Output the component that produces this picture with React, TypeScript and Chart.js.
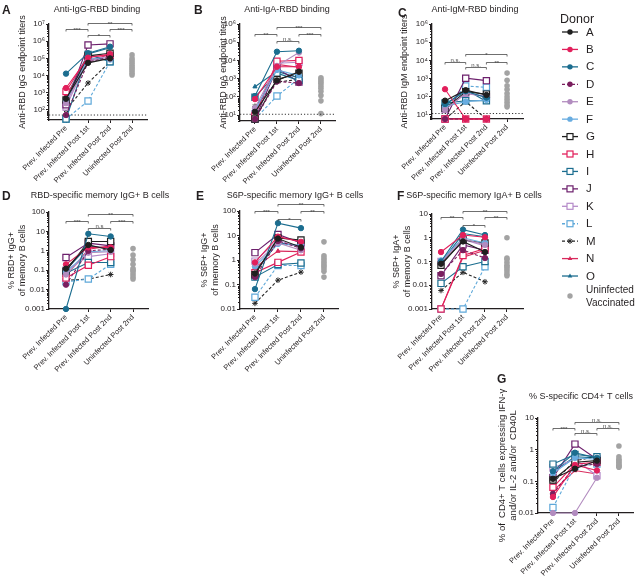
import React, { useEffect, useRef } from 'react';
import { Chart, registerables } from 'chart.js';

Chart.register(...registerables);

const FONT = '"Liberation Sans", Arial, Helvetica, sans-serif';
const INK = '#231f20';
const GRAY = '#a3a3a3';
Chart.defaults.font.family = FONT;
Chart.defaults.color = INK;

// ---------- categories / donors ----------
const TIMEPOINTS = ['Prev. Infected Pre', 'Prev. Infected Post 1st', 'Prev. Infected Post 2nd', 'Uninfected Post 2nd'];
const DONORS = ['A', 'B', 'C', 'D', 'E', 'F', 'G', 'H', 'I', 'J', 'K', 'L', 'M', 'N', 'O'];
const DONOR_COLORS = ['#1f1f1f', '#e21f5b', '#1b6d8f', '#7a1e5e', '#b28cbf', '#68ace0', '#1f1f1f', '#e21f5b', '#1b6d8f', '#6c1f6c', '#b58bc9', '#5ea8d9', '#262626', '#d92a5d', '#1b6d8f'];
const DONOR_MARKERS = ['circle', 'circle', 'circle', 'circle', 'circle', 'circle', 'rect', 'rect', 'rect', 'rect', 'rect', 'rect', 'star', 'triangle', 'triangle'];
const DONOR_DASHED = [false, false, false, true, false, false, false, false, false, false, false, true, true, false, false];

// ---------- tick values ----------
const TITER_TICKS_7 = [1e2, 1e3, 1e4, 1e5, 1e6, 1e7];
const TITER_TICKS_6 = [1e1, 1e2, 1e3, 1e4, 1e5, 1e6];
const PCT_TICKS_D = [0.001, 0.01, 0.1, 1, 10, 100];
const PCT_TICKS_E = [0.01, 0.1, 1, 10, 100];
const PCT_TICKS_F = [0.001, 0.01, 0.1, 1, 10];
const PCT_TICKS_G = [0.01, 0.1, 1, 10];

// ---------- A: Anti-IgG-RBD ----------
const antiIgG_pre = [450, 1900, 13000, 51, 250, 300, 380, 1200, 30, 200, 150, 30, 100, 700, 550];
const antiIgG_post1 = [55000, 110000, 200000, 60000, 75000, 95000, 140000, 130000, 170000, 600000, 90000, 330, 3700, 70000, 180000];
const antiIgG_post2 = [100000, 180000, 480000, 120000, 95000, 85000, 200000, 150000, 64000, 700000, 130000, 64000, 64000, 170000, 420000];
const antiIgG_uninf = [11000, 14000, 19000, 25000, 32000, 42000, 55000, 75000, 100000, 160000];
const antiIgG_lod = 51;
const antiIgG_sig = [[0, 1, 5.1e6, '***'], [1, 3, 1.15e7, '**'], [1, 2, 2.3e6, '*'], [2, 3, 5.1e6, '***']];

// ---------- B: Anti-IgA-RBD ----------
const antiIgA_pre = [15, 75, 110, 6, 24, 18, 6, 9, 95, 6, 12, 6, 30, 10, 360];
const antiIgA_post1 = [800, 4500, 30000, 700, 5000, 3000, 900, 9000, 2000, 3700, 7000, 110, 650, 6000, 2500];
const antiIgA_post2 = [2400, 4500, 34000, 570, 27000, 1500, 2000, 10000, 800, 650, 8000, 1000, 900, 4200, 1100];
const antiIgA_uninf = [12, 60, 120, 200, 300, 400, 550, 700, 900, 1100];
const antiIgA_lod = 11;
const antiIgA_sig = [[0, 1, 2.8e5, '**'], [1, 3, 6.9e5, '***'], [1, 2, 1.2e5, 'n.s.'], [2, 3, 2.8e5, '***']];

// ---------- C: Anti-IgM-RBD ----------
const antiIgM_pre = [61, 260, 40, 6, 19, 30, 23, 6, 45, 6, 20, 25, 6, 6, 35];
const antiIgM_post1 = [230, 6, 200, 6, 155, 54, 190, 6, 60, 1050, 150, 390, 54, 6, 250];
const antiIgM_post2 = [125, 6, 90, 6, 110, 67, 140, 6, 60, 770, 100, 330, 6, 6, 55];
const antiIgM_uninf = [28, 35, 50, 70, 100, 150, 250, 400, 800, 2000];
const antiIgM_lod = 12;
const antiIgM_sig = [[0, 1, 8.1e3, 'n.s.'], [1, 3, 2.2e4, '*'], [1, 2, 4.4e3, 'n.s.'], [2, 3, 8.1e3, '**']];

// ---------- D: RBD-specific memory IgG+ B cells ----------
const rbdIgG_pre = [0.12, 0.2, 0.001, 0.018, 0.06, 0.08, 0.09, 0.04, 0.07, 0.45, 0.1, 0.025, 0.03, 0.05, 0.1];
const rbdIgG_post1 = [2, 1.5, 7.5, 1, 0.8, 0.9, 3, 0.18, 0.25, 2.5, 0.5, 0.035, 0.035, 1.2, 1.8];
const rbdIgG_post2 = [1.1, 1.5, 5.5, 1.2, 0.9, 1.0, 3, 0.5, 0.25, 1.8, 0.7, 0.2, 0.06, 1.8, 1.3];
const rbdIgG_uninf = [0.035, 0.045, 0.06, 0.08, 0.1, 0.12, 0.2, 0.35, 0.6, 1.3];
const rbdIgG_sig = [[0, 1, 35, '***'], [1, 3, 76, '**'], [1, 2, 14.5, 'n.s'], [2, 3, 35, '***']];

// ---------- E: S6P-specific memory IgG+ B cells ----------
const s6pIgG_pre = [0.28, 0.8, 0.065, 0.2, 0.7, 0.55, 0.25, 0.3, 0.2, 2, 0.9, 0.03, 0.017, 0.5, 0.35];
const s6pIgG_post1 = [7.5, 9, 32, 6, 5, 4.5, 8, 0.8, 0.65, 11, 6.5, 0.6, 0.15, 2.3, 5];
const s6pIgG_post2 = [3.3, 5.5, 20, 3, 2.5, 4, 6.5, 2.1, 0.75, 5, 3, 0.6, 0.32, 2.2, 3.8];
const s6pIgG_uninf = [0.2, 0.35, 0.45, 0.55, 0.65, 0.8, 1.0, 1.2, 1.5, 5.5];
const s6pIgG_sig = [[0, 1, 100, '***'], [1, 3, 190, '**'], [1, 2, 47, '*'], [2, 3, 100, '**']];

// ---------- F: S6P-specific memory IgA+ B cells ----------
const s6pIgA_pre = [0.08, 0.25, 0.1, 0.03, 0.09, 0.11, 0.07, 0.001, 0.012, 0.025, 0.1, 0.001, 0.006, 0.001, 0.085];
const s6pIgA_post1 = [0.7, 1.3, 2.2, 0.3, 0.9, 1.0, 0.8, 0.18, 0.06, 0.5, 0.85, 0.001, 0.035, 0.15, 1.5];
const s6pIgA_post2 = [0.25, 1.05, 1.3, 0.14, 0.5, 0.6, 0.6, 0.35, 0.1, 0.3, 0.45, 0.06, 0.014, 0.3, 1.1];
const s6pIgA_uninf = [0.025, 0.03, 0.04, 0.05, 0.06, 0.07, 0.09, 0.12, 0.14, 1.0];
const s6pIgA_sig = [[0, 1, 7.3, '**'], [1, 3, 13.4, '**'], [1, 2, 3.4, '*'], [2, 3, 7.3, '**']];

// ---------- G: S-specific CD4+ T cells ----------
const cd4_pre = [0.12, 0.032, 0.21, 0.04, 0.01, 0.18, 0.11, 0.065, 0.35, 0.13, 0.27, 0.015, 0.09, 0.05, 0.2];
const cd4_post1 = [0.25, 0.33, 0.8, 0.3, 0.01, 0.55, 0.4, 0.35, 0.7, 1.5, 0.5, 0.3, 0.45, 0.22, 0.6];
const cd4_post2 = [0.45, 0.22, 0.55, 0.35, 0.13, 0.5, 0.45, 0.4, 0.6, 0.5, 0.15, 0.35, 0.6, 0.17, 0.55];
const cd4_uninf = [0.28, 0.3, 0.32, 0.35, 0.4, 0.45, 0.5, 0.6, 1.3];
const cd4_sig = [[0, 1, 4.7, '***'], [1, 3, 7.6, 'n.s.'], [1, 2, 3.3, 'n.s.'], [2, 3, 4.7, 'n.s.']];

// ---------- formatting ----------
const SUP = '⁰¹²³⁴⁵⁶⁷⁸⁹';
const fmtPow = (v: number) => '10' + String(Math.round(Math.log10(v))).split('').map((d) => SUP[+d]).join('');
const fmtPct = (v: number) => String(v);

interface Box { x: number; y: number; w: number; h: number }
interface Area { l: number; t: number; r: number; b: number }
interface PanelCfg {
  key: string;
  letter: string; letterPos: [number, number];
  title: string; titlePos: [number, number];
  canvas: Box; area: Area;
  yMin: number; yMax: number; yTicks: number[]; fmt: (v: number) => string;
  yTitle: string | string[]; yTitleSize: number; yTitlePad: number;
  xMin: number; xMax: number;
  pre: number[]; post1: number[]; post2: number[]; uninf: number[];
  sig: any[]; lod?: number;
}

const PANELS: PanelCfg[] = [
  {
    key: 'A', letter: 'A', letterPos: [2, 14], title: 'Anti-IgG-RBD binding', titlePos: [97, 10],
    canvas: { x: 0, y: 0, w: 188, h: 190 }, area: { l: 49, t: 24, r: 147, b: 120 },
    yMin: 26.2, yMax: 1e7, yTicks: TITER_TICKS_7, fmt: fmtPow,
    yTitle: 'Anti-RBD IgG endpoint titers', yTitleSize: 9, yTitlePad: 17.8,
    xMin: -0.773, xMax: 3.68,
    pre: antiIgG_pre, post1: antiIgG_post1, post2: antiIgG_post2, uninf: antiIgG_uninf, sig: antiIgG_sig, lod: antiIgG_lod,
  },
  {
    key: 'B', letter: 'B', letterPos: [194, 14], title: 'Anti-IgA-RBD binding', titlePos: [287, 10],
    canvas: { x: 188, y: 0, w: 207, h: 190 }, area: { l: 240, t: 24, r: 335, b: 121 },
    yMin: 4.7, yMax: 1e6, yTicks: TITER_TICKS_6, fmt: fmtPow,
    yTitle: 'Anti-RBD IgA endpoint titers', yTitleSize: 9, yTitlePad: 30.8,
    xMin: -0.68, xMax: 3.64,
    pre: antiIgA_pre, post1: antiIgA_post1, post2: antiIgA_post2, uninf: antiIgA_uninf, sig: antiIgA_sig, lod: antiIgA_lod,
  },
  {
    key: 'C', letter: 'C', letterPos: [398, 17], title: 'Anti-IgM-RBD binding', titlePos: [475, 10],
    canvas: { x: 395, y: 0, w: 155, h: 190 }, area: { l: 432, t: 24, r: 523, b: 119 },
    yMin: 6.0, yMax: 1e6, yTicks: TITER_TICKS_6, fmt: fmtPow,
    yTitle: 'Anti-RBD IgM endpoint titers', yTitleSize: 9, yTitlePad: 4.6,
    xMin: -0.63, xMax: 3.77,
    pre: antiIgM_pre, post1: antiIgM_post1, post2: antiIgM_post2, uninf: antiIgM_uninf, sig: antiIgM_sig, lod: antiIgM_lod,
  },
  {
    key: 'D', letter: 'D', letterPos: [2, 200], title: 'RBD-specific memory IgG+ B cells', titlePos: [100, 196],
    canvas: { x: 0, y: 185, w: 190, h: 195 }, area: { l: 49, t: 212, r: 148, b: 309 },
    yMin: 0.001, yMax: 100, yTicks: PCT_TICKS_D, fmt: fmtPct,
    yTitle: ['% RBD+ IgG+', 'of memory B cells'], yTitleSize: 9, yTitlePad: 6.8,
    xMin: -0.76, xMax: 3.67,
    pre: rbdIgG_pre, post1: rbdIgG_post1, post2: rbdIgG_post2, uninf: rbdIgG_uninf, sig: rbdIgG_sig,
  },
  {
    key: 'E', letter: 'E', letterPos: [196, 200], title: 'S6P-specific memory IgG+ B cells', titlePos: [295, 196],
    canvas: { x: 190, y: 185, w: 200, h: 195 }, area: { l: 240, t: 211, r: 338, b: 309 },
    yMin: 0.01, yMax: 100, yTicks: PCT_TICKS_E, fmt: fmtPct,
    yTitle: ['% S6P+ IgG+', 'of memory B cells'], yTitleSize: 9, yTitlePad: 9.8,
    xMin: -0.65, xMax: 3.61,
    pre: s6pIgG_pre, post1: s6pIgG_post1, post2: s6pIgG_post2, uninf: s6pIgG_uninf, sig: s6pIgG_sig,
  },
  {
    key: 'F', letter: 'F', letterPos: [397, 200], title: 'S6P-specific memory IgA+ B cells', titlePos: [474, 196],
    canvas: { x: 388, y: 185, w: 165, h: 195 }, area: { l: 432, t: 214, r: 523, b: 309 },
    yMin: 0.001, yMax: 10, yTicks: PCT_TICKS_F, fmt: fmtPct,
    yTitle: ['% S6P+ IgA+', 'of memory B cells'], yTitleSize: 9, yTitlePad: 3.8,
    xMin: -0.41, xMax: 3.73,
    pre: s6pIgA_pre, post1: s6pIgA_post1, post2: s6pIgA_post2, uninf: s6pIgA_uninf, sig: s6pIgA_sig,
  },
  {
    key: 'G', letter: 'G', letterPos: [497, 383], title: '% S-specific CD4+ T cells', titlePos: [581, 397],
    canvas: { x: 490, y: 368, w: 150, h: 210 }, area: { l: 538, t: 418, r: 633, b: 513 },
    yMin: 0.01, yMax: 10, yTicks: PCT_TICKS_G, fmt: fmtPct,
    yTitle: ['% of  CD4+ T cells expressing IFN-γ', 'and/or IL-2 and/or  CD40L'], yTitleSize: 9.5, yTitlePad: 6.5,
    xMin: -0.68, xMax: 3.64,
    pre: cd4_pre, post1: cd4_post1, post2: cd4_post2, uninf: cd4_uninf, sig: cd4_sig,
  },
];

function markerRadius(style: string) {
  if (style === 'rect') return 4.4;
  if (style === 'star') return 2.8;
  if (style === 'triangle') return 2.4;
  return 2.7;
}

function buildChart(canvas: HTMLCanvasElement, p: PanelCfg) {
  const c = p.canvas;
  const a = p.area;
  const datasets: any[] = [];
  if (p.lod != null) {
    datasets.push({
      data: [{ x: p.xMin, y: p.lod }, { x: p.xMax, y: p.lod }],
      showLine: true, borderColor: '#333', borderWidth: 1, borderDash: [1.2, 2],
      pointRadius: 0, clip: false,
    });
  }
  datasets.push({
    data: p.uninf.map((v) => ({ x: 3, y: v })),
    showLine: false, pointStyle: 'circle', pointRadius: 2.8,
    pointBackgroundColor: GRAY, pointBorderColor: GRAY, pointBorderWidth: 0, clip: false,
  });
  DONORS.forEach((d, i) => {
    const vals = [p.pre[i], p.post1[i], p.post2[i]];
    const style = DONOR_MARKERS[i];
    const col = DONOR_COLORS[i];
    datasets.push({
      label: d,
      data: vals.map((v, k) => ({ x: k, y: v })),
      showLine: true,
      borderColor: col,
      borderWidth: 1.1,
      borderDash: DONOR_DASHED[i] ? [3, 2] : [],
      tension: 0,
      pointStyle: style,
      pointRadius: markerRadius(style),
      pointBackgroundColor: style === 'rect' ? '#ffffff' : col,
      pointBorderColor: col,
      pointBorderWidth: style === 'rect' ? 1.2 : 1,
      clip: false,
    });
  });

  const deco = {
    id: 'deco' + p.key,
    afterDraw(chart: any) {
      const ctx = chart.ctx as CanvasRenderingContext2D;
      const xs = chart.scales.x;
      const ys = chart.scales.y;
      ctx.save();
      // minor log ticks
      ctx.strokeStyle = INK;
      ctx.lineWidth = 1;
      const axisX = chart.chartArea.left;
      const lo = Math.floor(Math.log10(p.yMin));
      const hi = Math.ceil(Math.log10(p.yMax));
      ctx.beginPath();
      for (let e = lo; e < hi; e++) {
        for (let k = 2; k <= 9; k++) {
          const v = k * Math.pow(10, e);
          if (v < p.yMin || v > p.yMax) continue;
          const py = Math.round(ys.getPixelForValue(v)) + 0.5;
          ctx.moveTo(axisX - 2, py);
          ctx.lineTo(axisX, py);
        }
      }
      ctx.stroke();
      // significance brackets
      ctx.strokeStyle = '#4a4a4a';
      ctx.fillStyle = '#4a4a4a';
      ctx.lineWidth = 0.8;
      ctx.font = `6px ${FONT}`;
      ctx.textAlign = 'center';
      ctx.textBaseline = 'alphabetic';
      for (const s of p.sig) {
        const [i, j, v, lab] = s as [number, number, number, string];
        const x1 = xs.getPixelForValue(i);
        const x2 = xs.getPixelForValue(j);
        const y = Math.round(ys.getPixelForValue(v)) + 0.5;
        ctx.beginPath();
        ctx.moveTo(x1, y + 2);
        ctx.lineTo(x1, y);
        ctx.lineTo(x2, y);
        ctx.lineTo(x2, y + 2);
        ctx.stroke();
        const star = lab.indexOf('*') >= 0;
        ctx.fillText(lab, (x1 + x2) / 2, star ? y + 2.5 : y - 0.5);
      }
      // panel title
      ctx.fillStyle = INK;
      ctx.font = `9px ${FONT}`;
      ctx.textAlign = 'center';
      ctx.textBaseline = 'middle';
      ctx.fillText(p.title, p.titlePos[0] - c.x, p.titlePos[1] - c.y);
      // panel letter
      ctx.font = `bold 12px "Liberation Sans Narrow", ${FONT}`;
      ctx.textAlign = 'left';
      ctx.textBaseline = 'alphabetic';
      ctx.fillText(p.letter, p.letterPos[0] - c.x, p.letterPos[1] - c.y);
      ctx.restore();
    },
  };

  return new Chart(canvas, {
    type: 'scatter',
    data: { datasets },
    plugins: [deco],
    options: {
      animation: false,
      responsive: false,
      maintainAspectRatio: false,
      events: [],
      layout: { padding: { left: 0, top: a.t - c.y, right: c.x + c.w - a.r, bottom: 0 } },
      plugins: { legend: { display: false }, tooltip: { enabled: false }, title: { display: false } },
      scales: {
        x: {
          type: 'linear',
          min: p.xMin,
          max: p.xMax,
          afterBuildTicks: (s: any) => { s.ticks = [0, 1, 2, 3].map((v) => ({ value: v })); },
          afterFit: (s: any) => { s.height = c.y + c.h - a.b; s.paddingLeft = 0; s.paddingRight = 0; },
          ticks: {
            autoSkip: false, minRotation: 45, maxRotation: 45, padding: 1,
            font: { size: 7.5 }, color: INK,
            callback: (v: any) => TIMEPOINTS[Math.round(Number(v))] ?? '',
          },
          grid: { drawOnChartArea: false, drawTicks: true, tickLength: 3, color: INK, lineWidth: 1 },
          border: { color: INK, width: 1.3 },
        },
        y: {
          type: 'logarithmic',
          min: p.yMin,
          max: p.yMax,
          afterBuildTicks: (s: any) => { s.ticks = p.yTicks.map((v) => ({ value: v, major: true })); },
          afterFit: (s: any) => { s.width = a.l - c.x; s.paddingTop = 0; s.paddingBottom = 0; },
          ticks: {
            autoSkip: false, padding: 1, font: { size: 8 }, color: INK,
            callback: (v: any) => p.fmt(Number(v)),
          },
          grid: { drawOnChartArea: false, drawTicks: true, tickLength: 3, color: INK, lineWidth: 1 },
          border: { color: INK, width: 1.3 },
          title: {
            display: true, text: p.yTitle, color: INK,
            font: { size: p.yTitleSize, lineHeight: 1.15 },
            padding: { top: p.yTitlePad, bottom: 0 },
          },
        },
      },
    } as any,
  });
}

function Panel({ cfg }: { cfg: PanelCfg }) {
  const ref = useRef<HTMLCanvasElement>(null);
  useEffect(() => {
    if (!ref.current) return;
    const chart = buildChart(ref.current, cfg);
    return () => chart.destroy();
  }, [cfg]);
  const c = cfg.canvas;
  return (
    <canvas
      ref={ref}
      width={c.w}
      height={c.h}
      style={{ position: 'absolute', left: c.x, top: c.y, width: c.w, height: c.h }}
    />
  );
}

function Marker({ style, color, cx, cy }: { style: string; color: string; cx: number; cy: number }) {
  if (style === 'rect') return <rect x={cx - 3} y={cy - 3} width={6} height={6} fill="#fff" stroke={color} strokeWidth={1.2} />;
  if (style === 'star') {
    const r = 2.8;
    return (
      <g stroke={color} strokeWidth={1}>
        <line x1={cx - r} y1={cy} x2={cx + r} y2={cy} />
        <line x1={cx} y1={cy - r} x2={cx} y2={cy + r} />
        <line x1={cx - r * 0.7} y1={cy - r * 0.7} x2={cx + r * 0.7} y2={cy + r * 0.7} />
        <line x1={cx - r * 0.7} y1={cy + r * 0.7} x2={cx + r * 0.7} y2={cy - r * 0.7} />
      </g>
    );
  }
  if (style === 'triangle') return <polygon points={`${cx},${cy - 2.5} ${cx + 2.3},${cy + 1.5} ${cx - 2.3},${cy + 1.5}`} fill={color} />;
  return <circle cx={cx} cy={cy} r={2.7} fill={color} />;
}

function Legend() {
  const left = 550;
  const rowY = (i: number) => 32 + 17.43 * i;
  return (
    <svg width={90} height={320} style={{ position: 'absolute', left, top: 0 }} fontFamily={FONT}>
      <text x={10} y={23} fontSize={12.5} fill={INK}>Donor</text>
      {DONORS.map((d, i) => {
        const y = rowY(i);
        const col = DONOR_COLORS[i];
        return (
          <g key={d}>
            <line x1={12} x2={28} y1={y} y2={y} stroke={col} strokeWidth={1.3} strokeDasharray={DONOR_DASHED[i] ? '3 2' : undefined} />
            <Marker style={DONOR_MARKERS[i]} color={col} cx={20} cy={y} />
            <text x={36} y={y + 0.5} fontSize={11.5} fill={INK} dominantBaseline="middle">{d}</text>
          </g>
        );
      })}
      <circle cx={20} cy={296} r={2.7} fill={GRAY} />
      <text x={36} y={290} fontSize={10} fill={INK} dominantBaseline="middle">Uninfected</text>
      <text x={36} y={303} fontSize={10} fill={INK} dominantBaseline="middle">Vaccinated</text>
    </svg>
  );
}

export default function App() {
  return (
    <div style={{ position: 'fixed', left: 0, top: 0, width: 640, height: 578, background: '#ffffff', overflow: 'hidden' }}>
      {PANELS.map((p) => <Panel key={p.key} cfg={p} />)}
      <Legend />
    </div>
  );
}
